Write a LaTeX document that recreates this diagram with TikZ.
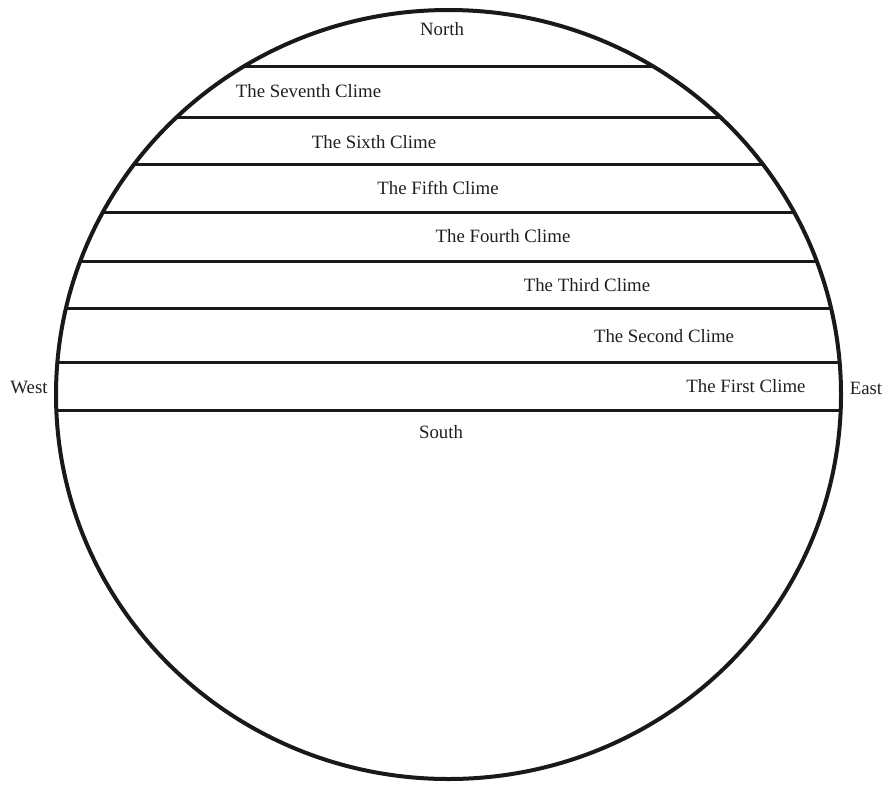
\documentclass[tikz,border=0pt]{standalone}
\usepackage{fontspec}
\setmainfont{Liberation Serif}
\begin{document}
\begin{tikzpicture}[x=1pt,y=-1pt,
  lbl/.style={font=\fontsize{18.8}{22}\selectfont, inner sep=0pt, text=black!88},
  rim/.style={line width=4pt, draw=black!90},
  band/.style={line width=3pt, draw=black!90}]
\useasboundingbox (0,0) rectangle (885,784);
\coordinate (ctr) at (448.5,394.5);
\begin{scope}
  \clip (ctr) ellipse [x radius=392.5, y radius=384.5];
  \foreach \yy in {66,117,164,212.5,261,308,362.5,410.5}
    \draw[band] (0,\yy) -- (885,\yy);
\end{scope}
\draw[rim] (ctr) ellipse [x radius=392.5, y radius=384.5];
\node[lbl] (north) at (442,29) {North};
\node[lbl] (c7) at (308.5,91) {The Seventh Clime};
\node[lbl] (c6) at (374,142) {The Sixth Clime};
\node[lbl] (c5) at (438,188) {The Fifth Clime};
\node[lbl] (c4) at (503,236) {The Fourth Clime};
\node[lbl] (c3) at (587,285) {The Third Clime};
\node[lbl] (c2) at (664,336) {The Second Clime};
\node[lbl] (c1) at (746,386.5) {The First Clime};
\node[lbl] (west) at (29,387) {West};
\node[lbl] (east) at (866,388) {East};
\node[lbl] (south) at (441,432) {South};
\end{tikzpicture}
\end{document}
